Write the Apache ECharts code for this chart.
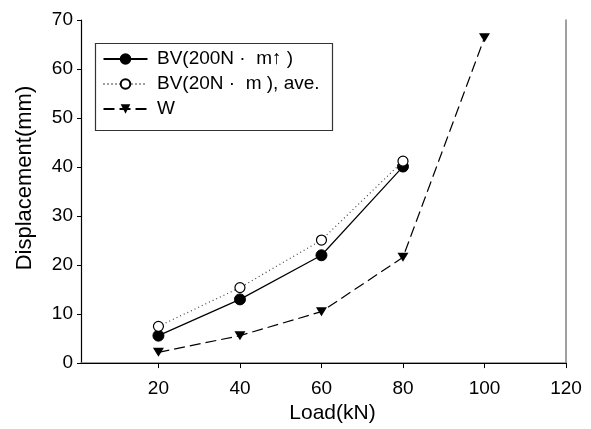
<!DOCTYPE html>
<html>
<head>
<meta charset="utf-8">
<script src="https://cdn.jsdelivr.net/npm/echarts@6/dist/echarts.min.js"></script>
<style>
html,body{margin:0;padding:0;background:#fff;}
#c{width:591px;height:429px;}
</style>
</head>
<body>
<div id="c"></div>
<script>
var loadX = [20, 40, 60, 80, 100];
var bv200 = [5.6, 13.0, 22.0, 40.1];
var bv20 = [7.5, 15.4, 25.1, 41.2];
var wVals = [2.2, 5.6, 10.5, 21.6, 66.4];
var xTicks = [20, 40, 60, 80, 100, 120];
var names = ['BV(200N \u00b7  m\u2191 )', 'BV(20N \u00b7  m ), ave.', 'W'];

function pairs(xs, ys) { return ys.map(function (v, i) { return [xs[i], v]; }); }

var FONT = 'Liberation Sans';
var chart = echarts.init(document.getElementById('c'), null, { renderer: 'canvas' });
chart.setOption({
  animation: false,
  backgroundColor: '#fff',
  grid: { left: 81, right: 25, top: 20, bottom: 60, containLabel: false },
  graphic: [{
    type: 'rect', left: 93, top: 41,
    shape: { width: 237, height: 87 },
    style: { fill: 'none', stroke: '#333', lineWidth: 1.2 }, z: 10
  }],
  legend: {
    orient: 'vertical', left: 97.5, top: 44.5, itemWidth: 44, itemHeight: 12, itemGap: 6,
    textStyle: { fontFamily: FONT, fontSize: 19, color: '#000', padding: [0, 0, 0, 4.5] },
    data: names
  },
  xAxis: [{
    type: 'value', min: 1, max: 120,
    name: 'Load(kN)', nameLocation: 'middle', nameGap: 35,
    nameTextStyle: { fontFamily: FONT, fontSize: 21, color: '#000', padding: [0, 0, 0, 18] },
    axisLine: { lineStyle: { color: '#808080', width: 1.5 } },
    axisTick: { show: true, length: 5, customValues: xTicks, lineStyle: { color: '#000' } },
    axisLabel: { customValues: xTicks, fontFamily: FONT, fontSize: 19, color: '#000', margin: 16 },
    splitLine: { show: false }
  }, {
    type: 'value', position: 'top', min: 1, max: 120,
    axisLine: { show: true, lineStyle: { color: '#000', width: 1.2 } },
    axisTick: { show: false }, axisLabel: { show: false }, splitLine: { show: false }
  }],
  yAxis: [{
    type: 'value', min: 0, max: 70, interval: 10,
    name: 'Displacement(mm)', nameLocation: 'middle', nameGap: 45,
    nameTextStyle: { fontFamily: FONT, fontSize: 22, color: '#000', padding: [0, 0, 0, 27] },
    axisLine: { show: true, lineStyle: { color: '#000', width: 1.2 } },
    axisTick: { show: true, length: 4, lineStyle: { color: '#000' } },
    axisLabel: { fontFamily: FONT, fontSize: 19, color: '#000', margin: 8 },
    splitLine: { show: false }
  }, {
    type: 'value', position: 'right', min: 0, max: 70,
    axisLine: { show: true, lineStyle: { color: '#808080', width: 1.5 } },
    axisTick: { show: false }, axisLabel: { show: false }, splitLine: { show: false }
  }],
  series: [{
    name: names[0], type: 'line', data: pairs(loadX, bv200),
    symbol: 'circle', symbolSize: 11,
    lineStyle: { color: '#000', width: 1.2, type: 'solid' },
    itemStyle: { color: '#000', borderColor: '#000', borderWidth: 1 }, z: 3
  }, {
    name: names[1], type: 'line', data: pairs(loadX, bv20),
    symbol: 'circle', symbolSize: 10,
    lineStyle: { color: '#444', width: 1.2, type: [1, 3] },
    itemStyle: { color: '#fff', borderColor: '#000', borderWidth: 1.2 }, z: 4
  }, {
    name: names[2], type: 'line', data: pairs(loadX, wVals),
    symbol: 'triangle', symbolRotate: 180, symbolSize: [11, 9],
    lineStyle: { color: '#000', width: 1.2, type: [11, 5] },
    itemStyle: { color: '#000' }, z: 3
  }]
});
</script>
</body>
</html>
